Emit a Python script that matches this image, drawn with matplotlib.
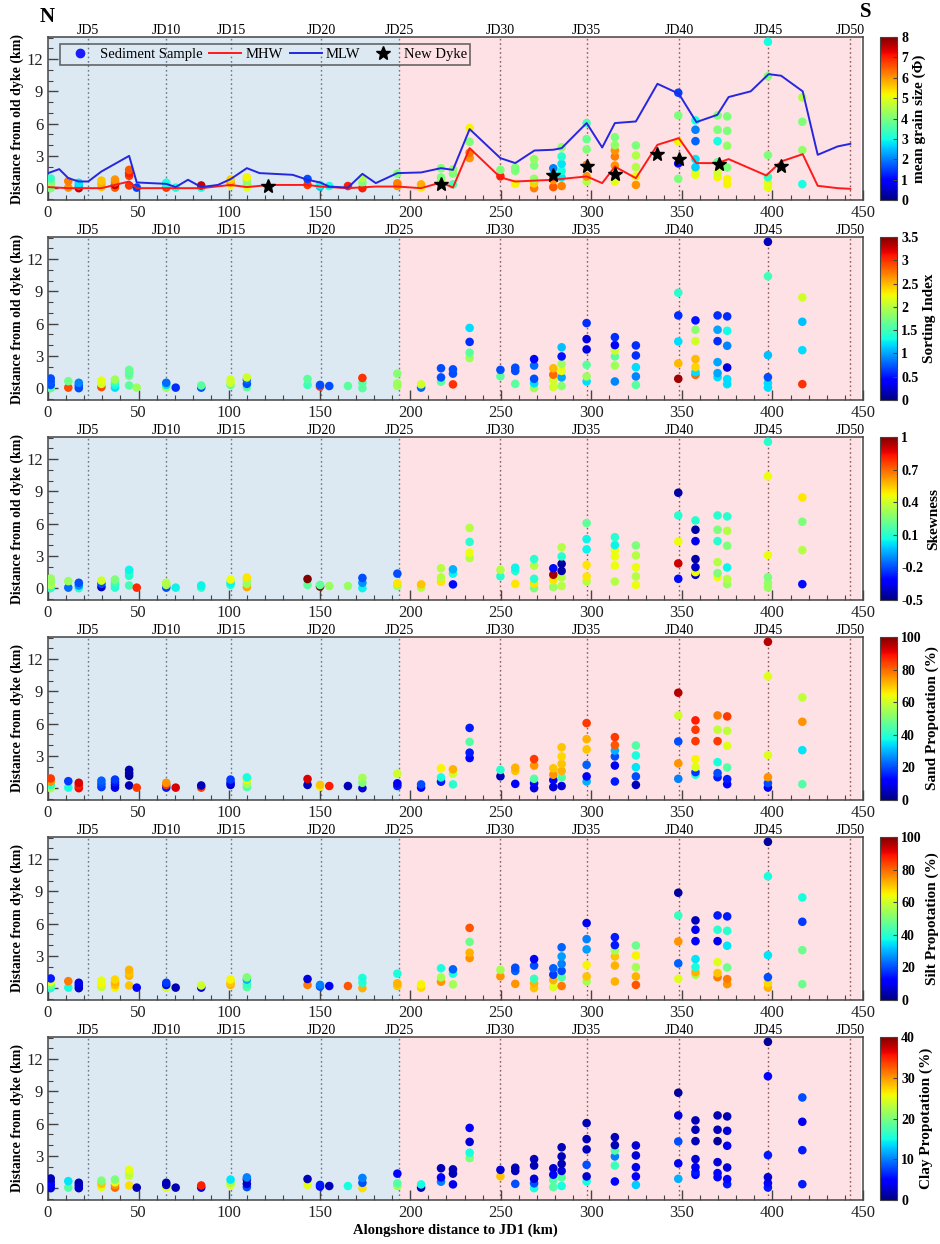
import numpy as np
import matplotlib.pyplot as plt
from matplotlib.lines import Line2D
from matplotlib.ticker import MultipleLocator
import matplotlib.transforms as mtransforms

plt.rcParams['font.family'] = ['Liberation Serif', 'DejaVu Serif']

# ---- sampling stations (alongshore km) and number of samples at each
station_km = [1.5, 11.2, 17, 29.5, 37, 44.8, 49, 65.3, 70.5, 84.6, 100.8, 109.8,
              143.3, 150.2, 155.3, 165.6, 173.6, 192.9, 206, 217, 223.6, 232.8,
              249.8, 258, 268.4, 279, 283.6, 297.4, 313, 324.6, 348, 357.5,
              369.7, 375, 397.5, 416.5]
n_samples = [4, 2, 3, 3, 4, 4, 1, 3, 1, 2, 3, 4,
             2, 2, 1, 1, 3, 3, 2, 3, 3, 4,
             2, 3, 5, 4, 6, 6, 6, 5, 5, 7,
             6, 6, 6, 4]

# distance from dyke (km), one per sample
dist_km = [0.0, 0.3, 0.6, 0.9,  0.05, 0.65,  0.0, 0.25, 0.5,  0.1, 0.4, 0.7,
           0.05, 0.3, 0.55, 0.8,  0.25, 1.15, 1.4, 1.7,  0.05,  0.05, 0.3, 0.5,
           0.05,  0.05, 0.25,  0.3, 0.5, 0.8,  0.1, 0.4, 0.8, 1.0,
           0.3, 0.85,  0.15, 0.3,  0.2,  0.2,  0.0, 0.5, 0.95,  0.2, 0.45, 1.35,
           0.05, 0.35,  0.6, 1.0, 1.85,  0.35, 1.35, 1.75,  2.8, 3.3, 4.3, 5.6,
           1.1, 1.7,  0.4, 1.6, 1.9,  0.0, 0.45, 0.87, 2.1, 2.7,
           0.1, 0.75, 1.25, 1.85,  0.2, 1.0, 1.6, 2.26, 2.95, 3.8,
           0.62, 1.09, 2.17, 3.6, 4.56, 6.05,  0.62, 2.1, 2.95, 3.5, 4.0, 4.74,
           0.3, 1.09, 1.95, 3.04, 3.97,  0.87, 2.3, 4.34, 6.76, 8.87,
           1.24, 1.49, 1.95, 2.7, 4.37, 5.43, 6.3,
           1.02, 1.4, 2.42, 4.37, 5.43, 6.76,  0.37, 0.84, 1.92, 3.94, 5.33, 6.67,
           0.06, 0.47, 1.02, 3.07, 10.4, 13.6,  0.37, 3.53, 6.17, 8.43]

grain_size = [4.0, 4.0, 4.2, 3.3,  6.0, 6.2,  7.5, 2.5, 2.8,  5.5, 5.8, 5.6,
              6.5, 7.5, 6.2, 6.0,  6.8, 6.8, 7.0, 6.5,  1.5,  6.8, 3.0, 3.0,
              3.0,  3.0, 7.5,  5.0, 6.0, 5.5,  5.0, 4.2, 4.0, 5.2,
              6.8, 1.6,  2.5, 3.0,  3.0,  7.0,  7.0, 4.0, 4.5,  6.0, 6.2, 4.0,
              5.2, 5.8,  4.5, 4.0, 4.0,  3.5, 4.0, 4.2,  6.0, 6.3, 4.0, 5.2,
              7.0, 4.0,  5.2, 4.0, 4.0,  6.2, 5.5, 4.2, 4.0, 4.2,
              6.5, 6.0, 2.8, 2.0,  6.2, 2.8, 3.0, 2.8, 3.2, 4.2,
              4.5, 6.0, 6.2, 4.0, 3.8, 3.5,  5.0, 6.0, 6.2, 6.0, 4.2, 4.0,
              6.0, 5.2, 4.5, 4.5, 4.0,  4.0, 1.0, 5.2, 4.0, 1.5,
              5.0, 5.0, 2.6, 2.8, 1.8, 2.0, 3.0,
              5.2, 4.8, 3.8, 3.0, 4.0, 4.0,  5.2, 5.2, 4.0, 4.2, 4.0, 4.0,
              5.0, 5.0, 3.3, 4.0, 4.0, 3.0,  3.0, 4.2, 4.0, 4.5]

sorting = [1.6, 0.7, 0.75, 0.7,  2.9, 1.7,  0.7, 0.7, 0.9,  2.9, 2.1, 2.2,
           1.2, 1.3, 1.5, 1.9,  1.6, 1.7, 1.6, 1.65,  1.9,  1.9, 1.2, 0.8,
           0.6,  0.7, 1.6,  1.6, 2.1, 2.1,  1.6, 0.7, 0.8, 2.1,
           1.5, 1.6,  3.0, 0.7,  0.7,  1.6,  1.6, 1.6, 3.0,  1.9, 1.9, 1.8,
           0.8, 2.1,  1.6, 0.7, 0.7,  3.0, 0.7, 0.7,  1.9, 1.6, 0.6, 1.2,
           1.6, 0.7,  1.6, 0.7, 0.7,  1.9, 1.2, 0.7, 0.8, 0.4,
           2.1, 2.1, 2.8, 2.5,  1.8, 1.0, 2.2, 1.9, 0.5, 1.1,
           1.2, 1.9, 1.6, 0.3, 0.3, 0.6,  0.9, 1.9, 1.6, 2.1, 0.4, 0.6,
           1.6, 0.9, 1.2, 0.6, 0.6,  3.4, 2.5, 1.2, 0.6, 1.4,
           2.8, 1.2, 2.4, 2.5, 2.1, 1.8, 0.5,
           1.2, 1.0, 1.0, 0.6, 1.0, 0.6,  1.2, 1.2, 0.3, 0.9, 1.3, 0.6,
           1.2, 1.2, 0.7, 1.1, 1.5, 0.2,  3.0, 1.2, 1.1, 2.1]

skewness = [0.1, 0.35, 0.3, 0.3,  -0.15, 0.3,  0.1, -0.1, -0.2,  -0.4, -0.2, 0.4,
            0.1, 0.1, 0.15, 0.25,  0.15, 0.1, 0.1, 0.05,  0.8,  -0.2, 0.3, 0.35,
            0.05,  0.1, 0.05,  0.1, 0.05, 0.45,  0.6, 0.3, 0.3, 0.5,
            0.2, 1.0,  1.0, 0.2,  0.3,  0.3,  0.05, -0.1, -0.2,  0.3, 0.5, -0.2,
            0.35, 0.55,  0.5, 0.35, 0.35,  -0.3, 0.05, -0.05,  0.35, 0.45, 0.1, 0.35,
            0.1, 0.35,  0.5, 0.1, 0.05,  0.25, 0.5, 0.1, 0.35, 0.1,
            0.3, 0.5, 0.95, -0.3,  0.35, 0.35, -0.45, -0.45, 0.1, 0.35,
            0.35, 0.5, 0.5, 0.05, 0.05, 0.2,  0.35, 0.45, 0.45, 0.45, 0.05, 0.1,
            0.45, 0.35, 0.45, 0.35, 0.25,  -0.3, 0.9, 0.45, 0.1, -0.45,
            -0.4, 0.45, -0.4, -0.45, -0.35, -0.45, 0.1,
            0.45, 0.25, 0.35, 0.1, 0.25, 0.1,  0.3, 0.35, 0.05, 0.25, 0.35, 0.1,
            0.3, 0.3, 0.25, 0.45, 0.45, 0.1,  -0.3, 0.35, 0.25, 0.5]

sand = [55, 40, 75, 85,  38, 18,  90, 88, 92,  18, 20, 22,
        10, 8, 15, 18,  5, 3, 3, 4,  85,  15, 85, 75,
        92,  85, 5,  5, 10, 18,  45, 55, 65, 38,
        5, 92,  65, 70,  88,  5,  8, 50, 55,  15, 10, 60,
        12, 20,  15, 38, 65,  40, 60, 72,  12, 15, 45, 15,
        5, 40,  12, 70, 72,  8, 12, 45, 75, 85,
        8, 12, 75, 70,  8, 45, 72, 70, 68, 70,
        30, 12, 22, 70, 72, 85,  15, 10, 20, 30, 82, 85,
        5, 20, 35, 38, 45,  25, 75, 20, 60, 95,
        40, 18, 62, 65, 85, 85, 88,
        15, 20, 38, 85, 58, 78,  12, 15, 45, 62, 58, 85,
        10, 20, 75, 62, 62, 95,  45, 35, 75, 58]

silt = [38, 50, 62, 15,  38, 78,  5, 8, 10,  58, 65, 63,
        65, 70, 72, 68,  70, 72, 70, 72,  12,  60, 12, 18,
        5,  10, 60,  72, 70, 65,  45, 42, 30, 50,
        78, 8,  20, 25,  10,  82,  72, 40, 38,  70, 72, 38,
        68, 65,  75, 55, 38,  55, 38, 22,  75, 72, 48, 82,
        75, 55,  75, 22, 20,  70, 72, 42, 20, 10,
        62, 72, 18, 22,  78, 45, 20, 25, 28, 22,
        55, 70, 65, 28, 25, 10,  72, 72, 70, 55, 15, 15,
        82, 72, 55, 65, 48,  62, 22, 75, 42, 3,
        55, 72, 38, 35, 12, 10, 5,
        78, 70, 62, 10, 40, 15,  75, 78, 48, 35, 40, 15,
        72, 68, 20, 35, 38, 3,  48, 48, 18, 38]

clay = [3, 4, 5, 2,  18, 14,  2, 3, 2,  25, 28, 20,
        32, 30, 25, 20,  27, 24, 23, 25,  2,  25, 3, 2,
        2,  3, 35,  25, 22, 14,  8, 3, 2, 10,
        25, 2,  5, 6,  2,  15,  27, 8, 10,  22, 18, 5,
        2, 15,  10, 5, 2,  4, 2, 2,  20, 15, 3, 5,
        28, 3,  8, 2, 2,  15, 8, 3, 2, 2,
        18, 18, 5, 3,  15, 18, 3, 2, 2, 2,
        15, 3, 8, 2, 2, 2,  5, 17, 10, 18, 2, 2,
        13, 5, 4, 3, 3,  12, 4, 8, 3, 1,
        5, 6, 4, 3, 2, 2, 2,
        5, 5, 3, 1, 2, 2,  6, 5, 3, 4, 3, 2,
        6, 5, 3, 6, 5, 1,  6, 6, 4, 8]

# ---- tidal lines and new dyke positions (top panel)
mlw_km = [0.1, 6.2, 11.2, 17, 22.2, 29.5, 44.8, 49, 65.3, 70.5, 77.3, 84.6, 93.8,
          100.8, 109.8, 116.8, 135.1, 143.3, 150.2, 155.3, 165.6, 173.6, 181,
          192.9, 206, 217, 223.6, 232.8, 249.8, 258, 268.6, 279, 283.6, 297.4,
          306, 313, 324.6, 336.5, 348.3, 358, 369.6, 375.8, 388, 397.9, 404.8,
          416.7, 425, 436, 443]
mlw_dist = [1.4, 1.77, 0.93, 0.62, 0.62, 1.55, 3.0, 0.53, 0.4, 0.1, 0.78, 0.1, 0.3,
            0.84, 1.86, 1.4, 1.24, 0.78, 0.53, 0.15, 0.05, 1.33, 0.47,
            1.4, 1.46, 1.86, 1.7, 5.49, 2.79, 2.33, 3.5, 3.57, 3.72, 6.05,
            3.78, 6.05, 6.2, 9.7, 8.78, 6.14, 6.82, 8.47, 9.0, 10.6, 10.45,
            9.0, 3.1, 3.88, 4.12]
mhw_km = [0.1, 11.2, 17, 29.5, 44.8, 49, 65.3, 84.6, 100.8, 109.8, 122.3, 143.3,
          150.2, 165.6, 181, 192.9, 206, 217, 223.6, 232.8, 249.8, 258, 279,
          297.4, 306, 313, 324.6, 336.5, 348.3, 358, 369.6, 375.8, 396.6, 404.8,
          416.7, 425, 436, 443]
mhw_dist = [0.1, 0.0, 0.0, 0.0, 0.62, 0.0, 0.0, 0.0, 0.3, 0.1, 0.3, 0.3,
            0.15, 0.0, 0.15, 0.15, 0.0, 0.53, 0.06, 3.72, 1.0, 0.62, 0.78,
            1.09, 0.47, 2.0, 0.93, 4.03, 4.65, 2.33, 2.33, 2.7, 1.18, 2.48,
            3.16, 0.22, 0.0, -0.06]
dyke_km = [121.6, 217, 279, 297.4, 313, 336.5, 348.3, 370.3, 404.5]
dyke_dist = [0.22, 0.4, 1.24, 2.1, 1.33, 3.2, 2.7, 2.26, 2.1]

jd_km = [21.9, 65.3, 101, 150.7, 193.8, 249.8, 297.5, 348.4, 397.6, 443]
jd_labels = ['JD5', 'JD10', 'JD15', 'JD20', 'JD25', 'JD30', 'JD35', 'JD40', 'JD45', 'JD50']

sample_km = np.repeat(station_km, n_samples)

panels = [
    (grain_size, 0, 8, [0, 1, 2, 3, 4, 5, 6, 7, 8], 'mean grain size (Φ)', 'Distance from old dyke (km)'),
    (sorting, 0, 3.5, [0, 0.5, 1, 1.5, 2, 2.5, 3, 3.5], 'Sorting Index', 'Distance from old dyke (km)'),
    (skewness, -0.5, 1, [-0.5, -0.2, 0.1, 0.4, 0.7, 1], 'Skewness', 'Distance from old dyke (km)'),
    (sand, 0, 100, [0, 20, 40, 60, 80, 100], 'Sand Propotation (%)', 'Distance from dyke (km)'),
    (silt, 0, 100, [0, 20, 40, 60, 80, 100], 'Silt Propotation (%)', 'Distance from dyke (km)'),
    (clay, 0, 40, [0, 10, 20, 30, 40], 'Clay Propotation (%)', 'Distance from dyke (km)'),
]

W, H = 940, 1244
fig = plt.figure(figsize=(W / 100, H / 100), dpi=100)
left, right = 48, 863
top0, step, ph = 37, 200, 163
split = 193.8
edge = '#444444'

for i, (vals, vmin, vmax, cticks, clabel, ylabel) in enumerate(panels):
    top = top0 + i * step
    ax = fig.add_axes([left / W, 1 - (top + ph) / H, (right - left) / W, ph / H])
    ax.set_xlim(0, 449)
    ax.set_ylim(-1.1, 14.05)
    ax.axvspan(0, split, color='#dce9f3', zorder=0, lw=0)
    ax.axvspan(split, 449, color='#fde1e4', zorder=0, lw=0)
    for x in jd_km:
        c = '#6a7585' if x < split + 1 else '#8a5c5c'
        ax.axvline(x, ls=(0, (1.2, 2)), lw=1.0, color=c, zorder=1)
    trans = mtransforms.blended_transform_factory(ax.transData, ax.transAxes)
    for x, lab in zip(jd_km, jd_labels):
        ax.text(x, 1.003, lab, transform=trans, ha='center', va='bottom', fontsize=10)

    sc = ax.scatter(sample_km, dist_km, c=vals, cmap='jet', vmin=vmin, vmax=vmax,
                    s=38, edgecolors='none', zorder=3)

    if i == 0:
        ax.plot(mhw_km, mhw_dist, color='#ff1a1a', lw=1.4, zorder=4)
        ax.plot(mlw_km, mlw_dist, color='#2626e0', lw=1.4, zorder=4)
        ax.plot(dyke_km, dyke_dist, ls='none', marker='*', ms=10, color='black', zorder=5)
        handles = [
            Line2D([], [], ls='none', marker='o', ms=6, color='#1a1aff'),
            Line2D([], [], color='#ff1a1a', lw=1.4),
            Line2D([], [], color='#2626e0', lw=1.4),
            Line2D([], [], ls='none', marker='*', ms=10, color='black'),
        ]
        leg = ax.legend(handles, ['Sediment Sample', 'MHW', 'MLW', 'New Dyke'],
                        loc='upper left', bbox_to_anchor=(0.0147, 0.957), ncol=4,
                        borderaxespad=0, handlelength=2.2, handletextpad=0.3,
                        columnspacing=0.45, borderpad=0.25, fontsize=10.5,
                        frameon=True, fancybox=False)
        leg.get_frame().set_facecolor('none')
        leg.get_frame().set_edgecolor(edge)
        leg.get_frame().set_linewidth(1.2)

    ax.set_xticks(range(0, 451, 50))
    ax.xaxis.set_minor_locator(MultipleLocator(10))
    ax.set_yticks([0, 3, 6, 9, 12])
    ax.yaxis.set_minor_locator(MultipleLocator(1))
    ax.tick_params(which='both', direction='in', top=False, right=False,
                   colors=edge, labelcolor='#222222', labelsize=12)
    ax.tick_params(which='major', length=7, width=1)
    ax.tick_params(which='minor', length=3.5, width=0.8)
    for sp in ax.spines.values():
        sp.set_color(edge)
        sp.set_linewidth(1.1)
    ax.set_ylabel(ylabel, fontsize=10, fontweight='bold', labelpad=2)
    if i == len(panels) - 1:
        ax.set_xlabel('Alongshore distance to JD1 (km)', fontsize=10.5,
                      fontweight='bold', labelpad=2)

    cax = fig.add_axes([880 / W, 1 - (top + ph) / H, 17 / W, ph / H])
    cb = fig.colorbar(sc, cax=cax, ticks=cticks)
    cb.ax.set_yticklabels(['%g' % t for t in cticks], fontsize=10, fontweight='bold')
    cb.ax.tick_params(direction='in', length=3, width=0.8, colors=edge, labelcolor='black', pad=3)
    cb.outline.set_edgecolor(edge)
    cb.set_label(clabel, fontsize=11, fontweight='bold', labelpad=3)

fig.text(47.5 / W, 1 - 17 / H, 'N', ha='center', va='center', fontsize=15, fontweight='bold')
fig.text(866 / W, 1 - 12 / H, 'S', ha='center', va='center', fontsize=15, fontweight='bold')

fig.savefig('out.png', dpi=100)
